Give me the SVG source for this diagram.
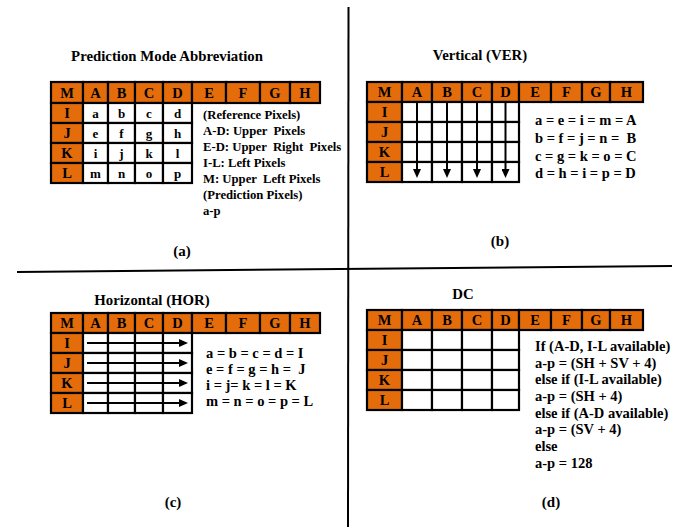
<svg xmlns="http://www.w3.org/2000/svg" width="688" height="527" viewBox="0 0 688 527">
<defs>
<style>
text{font-family:"Liberation Serif","Times New Roman",serif;font-weight:bold;fill:#000}
.ref{fill:#E46C0A;stroke:#000;stroke-width:2.2}
.px{fill:#fff;stroke:#000;stroke-width:2.2}
.hd{font-size:14.5px;text-anchor:middle}
.cl{font-size:13px;text-anchor:middle}
.title{font-size:14.8px;text-anchor:middle}
.cap{font-size:15px;text-anchor:middle}
.note{font-size:12.7px;white-space:pre}
.eq{font-size:14.5px;white-space:pre}
.arr{stroke:#000;stroke-width:2;fill:none;marker-end:url(#head)}
.div{stroke:#000;stroke-width:2;fill:none}
</style>
<marker id="head" viewBox="0 0 9 8" markerWidth="9" markerHeight="8" refX="3" refY="4" orient="auto" markerUnits="userSpaceOnUse">
<path d="M0,0 L9,4 L0,8 Z" fill="#000"/>
</marker>
</defs>
<rect width="688" height="527" fill="#fff"/>

<!-- quadrant dividers -->
<g id="dividers">
<line class="div" x1="348.5" y1="7" x2="348" y2="527"/>
<line class="div" x1="17" y1="272" x2="672" y2="266"/>
</g>

<!-- (a) abbreviation legend -->
<g id="panel-a">
<text class="title" x="167" y="61">Prediction Mode Abbreviation</text>
<g id="a-top">
<rect class="ref" x="51" y="82" width="32" height="21"/><rect class="ref" x="83" y="82" width="25" height="21"/><rect class="ref" x="108" y="82" width="27" height="21"/><rect class="ref" x="135" y="82" width="28" height="21"/><rect class="ref" x="163" y="82" width="29" height="21"/><rect class="ref" x="192" y="82" width="34" height="21"/><rect class="ref" x="226" y="82" width="34" height="21"/><rect class="ref" x="260" y="82" width="30" height="21"/><rect class="ref" x="290" y="82" width="30" height="21"/>
<text class="hd" x="67" y="97.5">M</text><text class="hd" x="95.5" y="97.5">A</text><text class="hd" x="121.5" y="97.5">B</text><text class="hd" x="149" y="97.5">C</text><text class="hd" x="177.5" y="97.5">D</text><text class="hd" x="209" y="97.5">E</text><text class="hd" x="243" y="97.5">F</text><text class="hd" x="275" y="97.5">G</text><text class="hd" x="305" y="97.5">H</text>
</g>
<g id="a-left">
<rect class="ref" x="51" y="103" width="32" height="20"/><rect class="ref" x="51" y="123" width="32" height="20"/><rect class="ref" x="51" y="143" width="32" height="20"/><rect class="ref" x="51" y="163" width="32" height="20"/>
<text class="hd" x="67" y="118">I</text><text class="hd" x="67" y="138">J</text><text class="hd" x="67" y="158">K</text><text class="hd" x="67" y="178">L</text>
</g>
<g id="a-pixels">
<rect class="px" x="83" y="103" width="25" height="20"/><rect class="px" x="108" y="103" width="27" height="20"/><rect class="px" x="135" y="103" width="28" height="20"/><rect class="px" x="163" y="103" width="29" height="20"/>
<rect class="px" x="83" y="123" width="25" height="20"/><rect class="px" x="108" y="123" width="27" height="20"/><rect class="px" x="135" y="123" width="28" height="20"/><rect class="px" x="163" y="123" width="29" height="20"/>
<rect class="px" x="83" y="143" width="25" height="20"/><rect class="px" x="108" y="143" width="27" height="20"/><rect class="px" x="135" y="143" width="28" height="20"/><rect class="px" x="163" y="143" width="29" height="20"/>
<rect class="px" x="83" y="163" width="25" height="20"/><rect class="px" x="108" y="163" width="27" height="20"/><rect class="px" x="135" y="163" width="28" height="20"/><rect class="px" x="163" y="163" width="29" height="20"/>
<text class="cl" x="95.5" y="117.5">a</text><text class="cl" x="121.5" y="117.5">b</text><text class="cl" x="149" y="117.5">c</text><text class="cl" x="177.5" y="117.5">d</text>
<text class="cl" x="95.5" y="137.5">e</text><text class="cl" x="121.5" y="137.5">f</text><text class="cl" x="149" y="137.5">g</text><text class="cl" x="177.5" y="137.5">h</text>
<text class="cl" x="95.5" y="157.5">i</text><text class="cl" x="121.5" y="157.5">j</text><text class="cl" x="149" y="157.5">k</text><text class="cl" x="177.5" y="157.5">l</text>
<text class="cl" x="95.5" y="177.5">m</text><text class="cl" x="121.5" y="177.5">n</text><text class="cl" x="149" y="177.5">o</text><text class="cl" x="177.5" y="177.5">p</text>
</g>
<g id="a-notes">
<text class="note" x="203" y="119">(Reference Pixels)</text>
<text class="note" x="203" y="135">A-D: Upper  Pixels</text>
<text class="note" x="203" y="151">E-D: Upper  Right  Pixels</text>
<text class="note" x="203" y="167">I-L: Left Pixels</text>
<text class="note" x="203" y="183">M: Upper  Left Pixels</text>
<text class="note" x="203" y="199">(Prediction Pixels)</text>
<text class="note" x="203" y="215">a-p</text>
</g>
<text class="cap" x="182" y="256">(a)</text>
</g>

<!-- (b) vertical mode -->
<g id="panel-b">
<text class="title" x="480" y="60">Vertical (VER)</text>
<g id="b-top">
<rect class="ref" x="367" y="82" width="35" height="20"/><rect class="ref" x="402" y="82" width="30" height="20"/><rect class="ref" x="432" y="82" width="30" height="20"/><rect class="ref" x="462" y="82" width="30" height="20"/><rect class="ref" x="492" y="82" width="27" height="20"/><rect class="ref" x="519" y="82" width="32" height="20"/><rect class="ref" x="551" y="82" width="31" height="20"/><rect class="ref" x="582" y="82" width="28" height="20"/><rect class="ref" x="610" y="82" width="33" height="20"/>
<text class="hd" x="384.5" y="97">M</text><text class="hd" x="417" y="97">A</text><text class="hd" x="447" y="97">B</text><text class="hd" x="477" y="97">C</text><text class="hd" x="505.5" y="97">D</text><text class="hd" x="535" y="97">E</text><text class="hd" x="566.5" y="97">F</text><text class="hd" x="596" y="97">G</text><text class="hd" x="626.5" y="97">H</text>
</g>
<g id="b-left">
<rect class="ref" x="367" y="102" width="35" height="20"/><rect class="ref" x="367" y="122" width="35" height="20"/><rect class="ref" x="367" y="142" width="35" height="20"/><rect class="ref" x="367" y="162" width="35" height="20"/>
<text class="hd" x="384.5" y="117">I</text><text class="hd" x="384.5" y="137">J</text><text class="hd" x="384.5" y="157">K</text><text class="hd" x="384.5" y="177">L</text>
</g>
<g id="b-pixels">
<rect class="px" x="402" y="102" width="30" height="20"/><rect class="px" x="432" y="102" width="30" height="20"/><rect class="px" x="462" y="102" width="30" height="20"/><rect class="px" x="492" y="102" width="27" height="20"/>
<rect class="px" x="402" y="122" width="30" height="20"/><rect class="px" x="432" y="122" width="30" height="20"/><rect class="px" x="462" y="122" width="30" height="20"/><rect class="px" x="492" y="122" width="27" height="20"/>
<rect class="px" x="402" y="142" width="30" height="20"/><rect class="px" x="432" y="142" width="30" height="20"/><rect class="px" x="462" y="142" width="30" height="20"/><rect class="px" x="492" y="142" width="27" height="20"/>
<rect class="px" x="402" y="162" width="30" height="20"/><rect class="px" x="432" y="162" width="30" height="20"/><rect class="px" x="462" y="162" width="30" height="20"/><rect class="px" x="492" y="162" width="27" height="20"/>
</g>
<g id="b-notes">
<text class="eq" x="535" y="125">a = e = i = m = A</text>
<text class="eq" x="535" y="143">b = f = j = n =  B</text>
<text class="eq" x="535" y="161">c = g = k = o = C</text>
<text class="eq" x="535" y="178">d = h = i = p = D</text>
</g>
<text class="cap" x="500" y="246">(b)</text>
</g>

<!-- (c) horizontal mode -->
<g id="panel-c">
<text class="title" x="152" y="305">Horizontal (HOR)</text>
<g id="c-top">
<rect class="ref" x="51" y="313" width="32" height="20"/><rect class="ref" x="83" y="313" width="25" height="20"/><rect class="ref" x="108" y="313" width="27" height="20"/><rect class="ref" x="135" y="313" width="28" height="20"/><rect class="ref" x="163" y="313" width="29" height="20"/><rect class="ref" x="192" y="313" width="34" height="20"/><rect class="ref" x="226" y="313" width="34" height="20"/><rect class="ref" x="260" y="313" width="30" height="20"/><rect class="ref" x="290" y="313" width="30" height="20"/>
<text class="hd" x="67" y="328">M</text><text class="hd" x="95.5" y="328">A</text><text class="hd" x="121.5" y="328">B</text><text class="hd" x="149" y="328">C</text><text class="hd" x="177.5" y="328">D</text><text class="hd" x="209" y="328">E</text><text class="hd" x="243" y="328">F</text><text class="hd" x="275" y="328">G</text><text class="hd" x="305" y="328">H</text>
</g>
<g id="c-left">
<rect class="ref" x="51" y="333" width="32" height="20"/><rect class="ref" x="51" y="353" width="32" height="20"/><rect class="ref" x="51" y="373" width="32" height="20"/><rect class="ref" x="51" y="393" width="32" height="20"/>
<text class="hd" x="67" y="348">I</text><text class="hd" x="67" y="368">J</text><text class="hd" x="67" y="388">K</text><text class="hd" x="67" y="408">L</text>
</g>
<g id="c-pixels">
<rect class="px" x="83" y="333" width="25" height="20"/><rect class="px" x="108" y="333" width="27" height="20"/><rect class="px" x="135" y="333" width="28" height="20"/><rect class="px" x="163" y="333" width="29" height="20"/>
<rect class="px" x="83" y="353" width="25" height="20"/><rect class="px" x="108" y="353" width="27" height="20"/><rect class="px" x="135" y="353" width="28" height="20"/><rect class="px" x="163" y="353" width="29" height="20"/>
<rect class="px" x="83" y="373" width="25" height="20"/><rect class="px" x="108" y="373" width="27" height="20"/><rect class="px" x="135" y="373" width="28" height="20"/><rect class="px" x="163" y="373" width="29" height="20"/>
<rect class="px" x="83" y="393" width="25" height="20"/><rect class="px" x="108" y="393" width="27" height="20"/><rect class="px" x="135" y="393" width="28" height="20"/><rect class="px" x="163" y="393" width="29" height="20"/>
</g>
<g id="c-notes">
<text class="eq" x="206" y="358">a = b = c = d = I</text>
<text class="eq" x="206" y="374">e = f = g = h =  J</text>
<text class="eq" x="206" y="390">i = j= k = l = K</text>
<text class="eq" x="206" y="406">m = n = o = p = L</text>
</g>
<text class="cap" x="173" y="507">(c)</text>
</g>

<!-- (d) DC mode -->
<g id="panel-d">
<text class="title" x="463" y="299">DC</text>
<g id="d-top">
<rect class="ref" x="367" y="310" width="35" height="20"/><rect class="ref" x="402" y="310" width="30" height="20"/><rect class="ref" x="432" y="310" width="30" height="20"/><rect class="ref" x="462" y="310" width="30" height="20"/><rect class="ref" x="492" y="310" width="27" height="20"/><rect class="ref" x="519" y="310" width="32" height="20"/><rect class="ref" x="551" y="310" width="31" height="20"/><rect class="ref" x="582" y="310" width="28" height="20"/><rect class="ref" x="610" y="310" width="33" height="20"/>
<text class="hd" x="384.5" y="325">M</text><text class="hd" x="417" y="325">A</text><text class="hd" x="447" y="325">B</text><text class="hd" x="477" y="325">C</text><text class="hd" x="505.5" y="325">D</text><text class="hd" x="535" y="325">E</text><text class="hd" x="566.5" y="325">F</text><text class="hd" x="596" y="325">G</text><text class="hd" x="626.5" y="325">H</text>
</g>
<g id="d-left">
<rect class="ref" x="367" y="330" width="35" height="20"/><rect class="ref" x="367" y="350" width="35" height="20"/><rect class="ref" x="367" y="370" width="35" height="20"/><rect class="ref" x="367" y="390" width="35" height="20"/>
<text class="hd" x="384.5" y="345">I</text><text class="hd" x="384.5" y="365">J</text><text class="hd" x="384.5" y="385">K</text><text class="hd" x="384.5" y="405">L</text>
</g>
<g id="d-pixels">
<rect class="px" x="402" y="330" width="30" height="20"/><rect class="px" x="432" y="330" width="30" height="20"/><rect class="px" x="462" y="330" width="30" height="20"/><rect class="px" x="492" y="330" width="27" height="20"/>
<rect class="px" x="402" y="350" width="30" height="20"/><rect class="px" x="432" y="350" width="30" height="20"/><rect class="px" x="462" y="350" width="30" height="20"/><rect class="px" x="492" y="350" width="27" height="20"/>
<rect class="px" x="402" y="370" width="30" height="20"/><rect class="px" x="432" y="370" width="30" height="20"/><rect class="px" x="462" y="370" width="30" height="20"/><rect class="px" x="492" y="370" width="27" height="20"/>
<rect class="px" x="402" y="390" width="30" height="20"/><rect class="px" x="432" y="390" width="30" height="20"/><rect class="px" x="462" y="390" width="30" height="20"/><rect class="px" x="492" y="390" width="27" height="20"/>
</g>
<g id="d-notes">
<text class="eq" x="535" y="351">If (A-D, I-L available)</text>
<text class="eq" x="535" y="368">a-p = (SH + SV + 4)</text>
<text class="eq" x="535" y="384">else if (I-L available)</text>
<text class="eq" x="535" y="401">a-p = (SH + 4)</text>
<text class="eq" x="535" y="418">else if (A-D available)</text>
<text class="eq" x="535" y="434">a-p = (SV + 4)</text>
<text class="eq" x="535" y="451">else</text>
<text class="eq" x="535" y="468">a-p = 128</text>
</g>
<text class="cap" x="551" y="507">(d)</text>
</g>

<!-- prediction direction arrows -->
<g id="connectors">
<line class="arr" x1="417" y1="102" x2="417" y2="172"/>
<line class="arr" x1="447" y1="102" x2="447" y2="172"/>
<line class="arr" x1="477" y1="102" x2="477" y2="172"/>
<line class="arr" x1="505.5" y1="102" x2="505.5" y2="172"/>
<line class="arr" x1="87" y1="343" x2="182" y2="343"/>
<line class="arr" x1="87" y1="363" x2="182" y2="363"/>
<line class="arr" x1="87" y1="383" x2="182" y2="383"/>
<line class="arr" x1="87" y1="403" x2="182" y2="403"/>
</g>
</svg>
